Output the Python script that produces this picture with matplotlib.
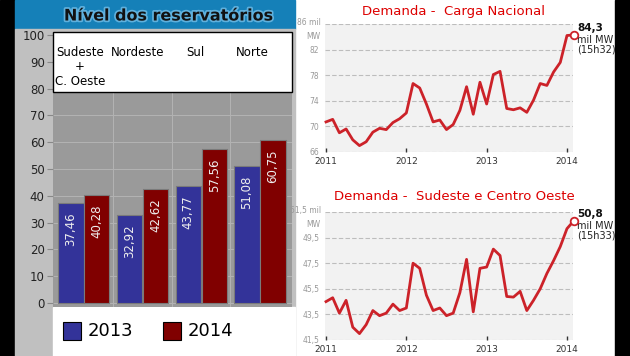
import matplotlib.pyplot as plt
import matplotlib.patheffects as pe
from matplotlib.patches import Rectangle
import numpy as np

# nivel dos reservatorios (%)
regions = ["Sudeste\n+\nC. Oeste", "Nordeste", "Sul", "Norte"]
nivel_2013 = [37.46, 32.92, 43.77, 51.08]
nivel_2014 = [40.28, 42.62, 57.56, 60.75]

# demanda mensal, jan/2011 .. jan/2014 (mil MW)
years = ["2011", "2012", "2013", "2014"]
carga_nacional = [70.7, 71.1, 69.0, 69.6, 67.9, 67.0, 67.6, 69.1, 69.7, 69.5,
                  70.6, 71.2, 72.1, 76.7, 76.0, 73.5, 70.7, 71.0, 69.5, 70.3,
                  72.5, 76.2, 71.9, 76.9, 73.5, 78.1, 78.6, 72.8, 72.6, 72.9,
                  72.2, 74.1, 76.7, 76.4, 78.5, 80.0, 84.2, 84.3]
carga_seco = [44.5, 44.8, 43.6, 44.6, 42.5, 42.0, 42.7, 43.8, 43.4, 43.6,
              44.3, 43.8, 44.0, 47.5, 47.1, 45.0, 43.8, 44.0, 43.4, 43.6,
              45.2, 47.8, 43.7, 47.1, 47.2, 48.6, 48.1, 44.9, 44.85, 45.3,
              43.8, 44.6, 45.5, 46.7, 47.7, 48.8, 50.2, 50.8]

W, H = 630, 356
fig = plt.figure(figsize=(6.3, 3.56), dpi=100)


def box(x0, y0, x1, y1):
    return [x0 / W, 1 - y1 / H, (x1 - x0) / W, (y1 - y0) / H]


def br(v):
    return f"{v:.2f}".replace(".", ",")


# background pieces
bg = fig.add_axes([0, 0, 1, 1], zorder=0)
bg.set_xlim(0, W)
bg.set_ylim(H, 0)
bg.axis("off")
bg.add_patch(Rectangle((0, 0), 15, H, color="black"))
bg.add_patch(Rectangle((615, 0), 15, H, color="black"))
bg.add_patch(Rectangle((15, 0), 280, 29, color="#1580b8"))
bg.add_patch(Rectangle((15, 29), 280, H - 29, color="#c0c0c0"))
bg.add_patch(Rectangle((53, 307), 242, H - 307, color="white"))

# bar chart
ax = fig.add_axes(box(53, 32, 292, 307), zorder=1)
ax.set_facecolor("#9a9a9a")
x = np.arange(len(regions))
b1 = ax.bar(x - 0.215, nivel_2013, 0.43, color="#333399", edgecolor="#7a7a7a", lw=0.8, zorder=2)
b2 = ax.bar(x + 0.225, nivel_2014, 0.43, color="#800000", edgecolor="#7a7a7a", lw=0.8, zorder=2)
for v in range(0, 101, 10):
    ax.axhline(v, color="#b3b3b3", lw=0.7, zorder=1)
for v in [0.5, 1.5, 2.5]:
    ax.axvline(v, color="#b3b3b3", lw=0.7, zorder=1)
ax.set_xlim(-0.52, 3.55)
ax.set_ylim(-1.5, 101.1)
ax.set_xticks([])
ax.set_yticks(range(0, 101, 10))
ax.tick_params(axis="y", labelsize=8.5, length=4, color="#888888", labelcolor="#222222", pad=2)
for s in ax.spines.values():
    s.set_visible(False)
for bars, vals in [(b1, nivel_2013), (b2, nivel_2014)]:
    for r, v in zip(bars, vals):
        ax.text(r.get_x() + r.get_width() / 2, v - 3.5, br(v), rotation=90,
                ha="center", va="top", color="#eeeeee", fontsize=8.5, zorder=3)

# overlay: title, category box, legend
fr = fig.add_axes([0, 0, 1, 1], zorder=5)
fr.set_xlim(0, W)
fr.set_ylim(H, 0)
fr.axis("off")
fr.text(169, 16, "Nível dos reservatórios", ha="center", va="center", fontsize=11.5,
        fontweight="bold", color="#111111",
        path_effects=[pe.withStroke(linewidth=2.5, foreground="#5fb0dc")])
fr.add_patch(Rectangle((53, 32), 239, 60, facecolor="white", edgecolor="black", lw=1))
for lab, xp in zip(regions, [55, 111, 186, 236]):
    fr.text(xp, 46, lab, ha="left", va="top", multialignment="center", fontsize=8.5,
            linespacing=1.15)
fr.add_patch(Rectangle((63, 322), 18, 18, facecolor="#333399", edgecolor="black", lw=0.8))
fr.text(88, 331, "2013", ha="left", va="center", fontsize=13)
fr.add_patch(Rectangle((163, 322), 18, 18, facecolor="#800000", edgecolor="black", lw=0.8))
fr.text(188, 331, "2014", ha="left", va="center", fontsize=13)


def demanda(rect, vals, yticks, top_txt, title, title_y, last_txt):
    a = fig.add_axes(rect, zorder=1)
    a.set_facecolor("#f2f2f2")
    m = np.arange(len(vals))
    a.plot(m, vals, color="#cc2229", lw=2, clip_on=False, zorder=3)
    a.plot(m[-1], vals[-1], "o", mfc="white", mec="#cc2229", mew=1.3, ms=5.5,
           clip_on=False, zorder=4)
    a.set_xlim(-0.15, 36.9)
    a.set_ylim(yticks[0], yticks[-1])
    a.set_xticks([0, 12, 24, 36], years)
    a.set_yticks(yticks)
    a.set_yticklabels([f"{t:g}".replace(".", ",") for t in yticks[:-1]] + [""])
    a.grid(axis="y", ls=(0, (4, 2)), color="#bdbdbd", lw=0.8)
    a.tick_params(axis="y", length=0, labelsize=5.5, labelcolor="#999999", pad=4)
    a.tick_params(axis="x", direction="in", length=3, width=1, color="#333333",
                  labelsize=6.5, labelcolor="#333333", pad=3.5)
    for s in a.spines.values():
        s.set_visible(False)
    a.annotate(top_txt, (0, yticks[-1]), xycoords=("axes fraction", "data"),
               xytext=(-3, 4), textcoords="offset points", ha="right", va="top",
               fontsize=5.5, color="#999999", linespacing=1.6)
    v = str(vals[-1]).replace(".", ",")
    a.annotate(v, (1, vals[-1]), xycoords=("axes fraction", "data"), xytext=(3, 5),
               textcoords="offset points", fontsize=7.5, fontweight="bold",
               ha="left", va="center", color="#111111")
    a.annotate("mil MW\n" + last_txt, (1, vals[-1]), xycoords=("axes fraction", "data"),
               xytext=(3, 0), textcoords="offset points", fontsize=7,
               ha="left", va="top", color="#222222", linespacing=0.95)
    fig.text(454 / W, 1 - title_y / H, title, ha="center", va="center",
             fontsize=9.5, color="#dd0000")
    return a


demanda(box(325, 24, 573, 152), carga_nacional, [66, 70, 74, 78, 82, 86],
        "86 mil\nMW", "Demanda -  Carga Nacional", 12, "(15h32)")
demanda(box(325, 212, 573, 340), carga_seco, [41.5, 43.5, 45.5, 47.5, 49.5, 51.5],
        "51,5 mil\nMW", "Demanda -  Sudeste e Centro Oeste", 197, "(15h33)")

fig.savefig("out.png", dpi=100)
